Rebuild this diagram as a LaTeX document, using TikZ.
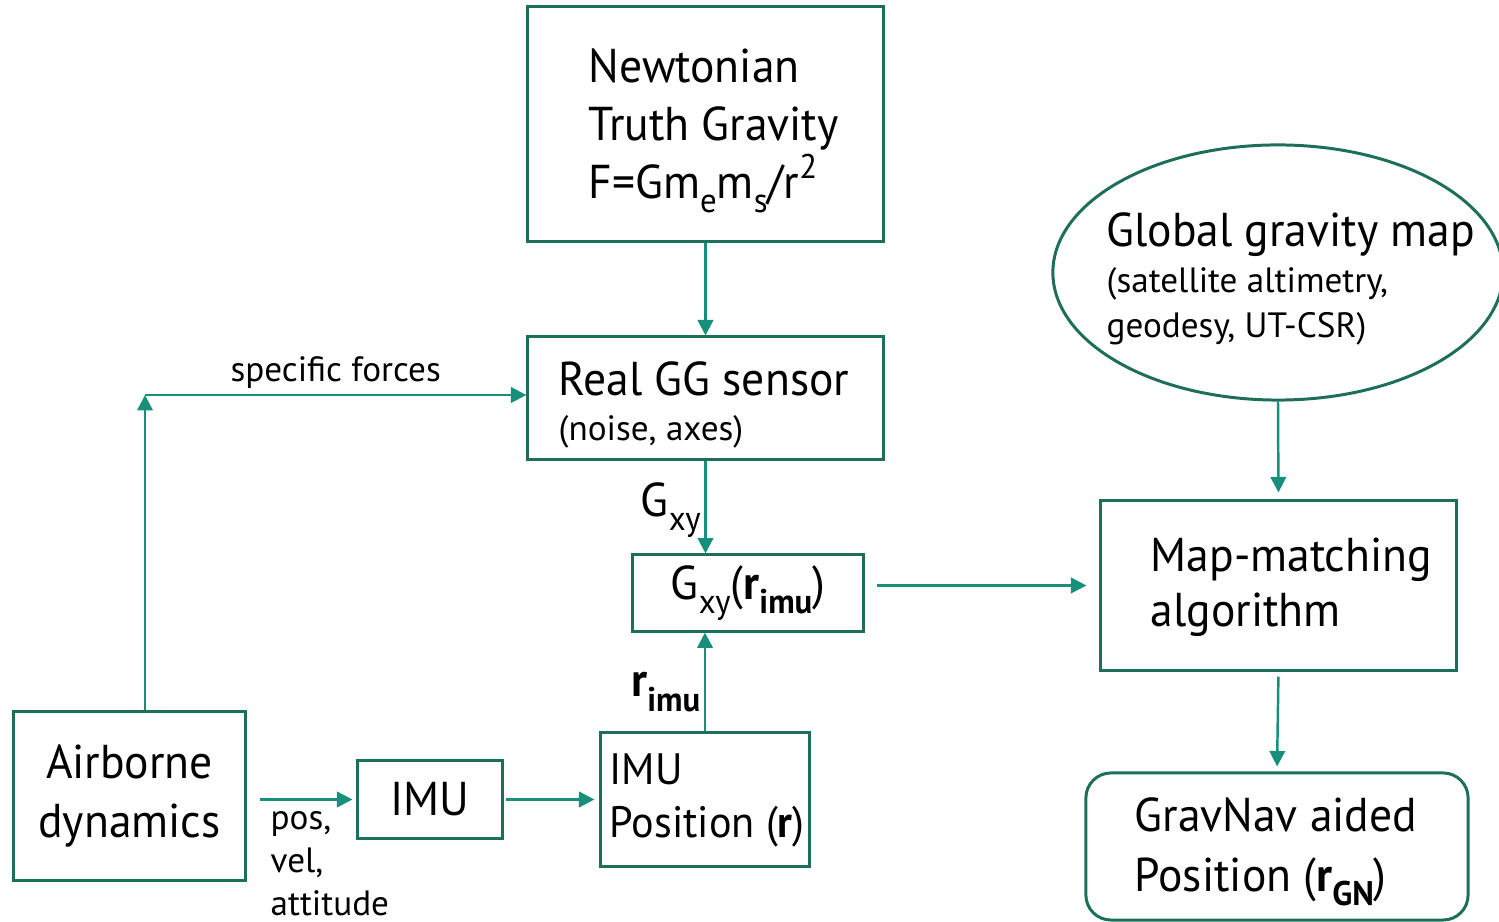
\documentclass[tikz,border=0pt]{standalone}
\usepackage{fontspec}
\setmainfont{PT Sans}
\newfontfamily\bigfam{PT Sans}[FakeStretch=0.96]
\usetikzlibrary{arrows.meta,positioning,calc,shapes.geometric}
\definecolor{BoxLine}{HTML}{1E6E5C}
\definecolor{ArrowLine}{HTML}{16907A}
\newcommand{\lowidx}[1]{\raisebox{-0.6ex}{\scalebox{0.72}{#1}}}
\newcommand{\upidx}[1]{\raisebox{0.85ex}{\scalebox{0.72}{#1}}}
\newcommand{\bigfont}{\bigfam\fontsize{13.5}{16.5}\selectfont}
\newcommand{\midfont}{\fontsize{10}{12.2}\selectfont}

\begin{document}
\begin{tikzpicture}[x=0.01cm,y=-0.01cm,>={Triangle[length=4.4pt,width=4.4pt]},
  box/.style={draw=BoxLine,line width=0.85pt,inner sep=0pt},
  txt/.style={inner sep=0pt,align=left,font=\bigfont},
  lbl/.style={inner sep=0pt,align=left,font=\midfont},
  arr/.style={->,draw=ArrowLine,fill=ArrowLine,line width=0.7pt}]
\useasboundingbox (0,0) rectangle (1499,922);
\node[box,minimum width=3.55cm,minimum height=2.34cm] (newton) at (705.5,124) {};
\node[txt,anchor=north west] (newtonT) at (588,48) {Newtonian\\Truth Gravity\\F=Gm\lowidx{e}m\lowidx{s}/r\upidx{2}};
\node[box,minimum width=3.55cm,minimum height=1.22cm] (sensor) at (705.5,398) {};
\node[txt,anchor=north west] (sensorT) at (558,361) {Real GG sensor\\[-3.7pt]{\rmfamily\midfont(noise, axes)}};
\node[box,ellipse,minimum width=4.5cm,minimum height=2.55cm] (global) at (1278,272.5) {};
\node[txt,anchor=north west] (globalT) at (1106,212) {Global gravity map\\[-3.5pt]{\rmfamily\midfont(satellite altimetry,}\\[-3.5pt]{\rmfamily\midfont geodesy, UT-CSR)}};
\node[box,minimum width=3.55cm,minimum height=1.69cm] (map) at (1278.5,585.5) {};
\node[txt,anchor=north west] (mapT) at (1150,537) {Map-matching\\[-0.9pt]algorithm};
\node[box,rounded corners=0.25cm,minimum width=3.82cm,minimum height=1.47cm] (grav) at (1277,846.5) {};
\node[txt,anchor=north west] (gravT) at (1134,797) {GravNav aided\\[0.5pt]Position (\textbf{r}\lowidx{\textbf{GN}})};
\node[box,minimum width=2.3cm,minimum height=0.76cm,font=\bigfont] (gxy) at (748,593) {G\lowidx{xy}(\textbf{r}\lowidx{\textbf{imu}})};
\node[box,minimum width=2.08cm,minimum height=1.33cm] (imupos) at (705,799.5) {};
\node[txt,anchor=north west,font=\bigfam\fontsize{12.5}{16.5}\selectfont] (imuposT) at (609,753) {IMU\\[-1.5pt]Position (\textbf{r})};
\node[box,minimum width=1.44cm,minimum height=0.77cm,font=\bigfont] (imu) at (430,799.5) {IMU};
\node[box,minimum width=2.31cm,minimum height=1.68cm,font=\bigfont,align=center] (air) at (129.5,796) {Airborne\\dynamics};
\node[lbl,anchor=north west] (pvaLbl) at (270,811) {pos,\\vel,\\attitude};
\coordinate (bend) at (145,395);
\draw[arr] (air.north -| bend) -- (bend);
\draw[arr] (bend) -- (bend -| sensor.west) node[midway,above=1.5pt,inner sep=0pt,font=\midfont] (sfLbl) {specific forces};
\draw[arr] (newton.south) -- (sensor.north);
\draw[arr] (sensor.south) -- (sensor.south |- gxy.north) node[pos=0.6,anchor=base east,inner sep=0pt,xshift=-1pt,font=\bigfont] (gxyLbl) {G\lowidx{xy}};
\draw[arr] (imupos.north) -- (imupos.north |- gxy.south) node[pos=0.35,anchor=base east,inner sep=0pt,xshift=-1pt,font=\bigfont] (rLbl) {\textbf{r}\lowidx{\textbf{imu}}};
\draw[arr,shorten <=0.12cm,shorten >=0.13cm] (map.west -| gxy.east) -- (map.west);
\draw[arr,shorten >=0.07cm] (global.south) -- (map.north);
\draw[arr,shorten <=0.05cm,shorten >=0.05cm] (map.south) -- (grav.north);
\draw[arr,shorten <=0.13cm,shorten >=0.04cm] (imu.west -| air.east) -- (imu.west);
\draw[arr,shorten <=0.02cm,shorten >=0.05cm] (imu.east) -- (imupos.west);
\end{tikzpicture}
\end{document}
